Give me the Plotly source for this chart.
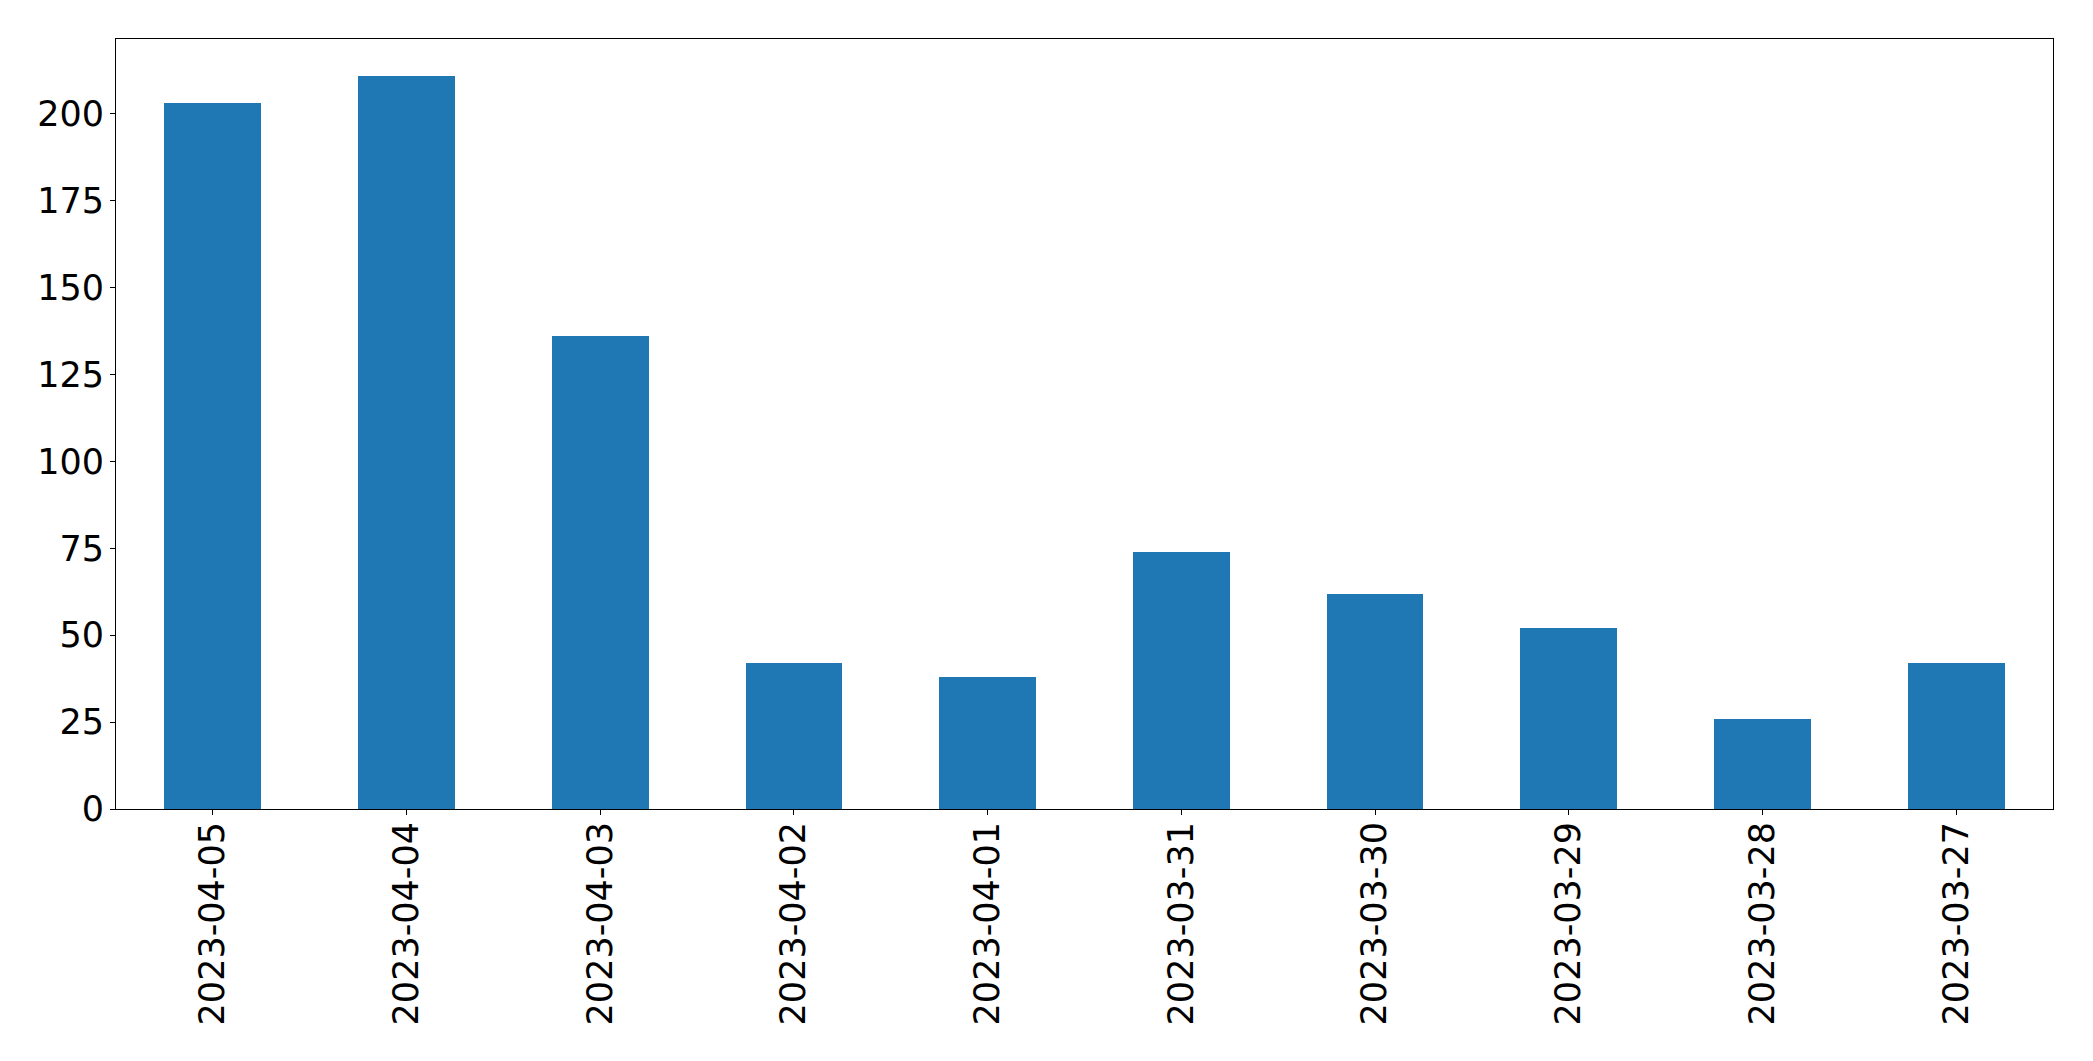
import plotly.graph_objects as go

dates = ["2023-04-05", "2023-04-04", "2023-04-03", "2023-04-02", "2023-04-01",
         "2023-03-31", "2023-03-30", "2023-03-29", "2023-03-28", "2023-03-27"]
counts = [203, 211, 136, 42, 38, 74, 62, 52, 26, 42]
y_ticks = [0, 25, 50, 75, 100, 125, 150, 175, 200]

fig = go.Figure()
fig.add_trace(go.Bar(x=list(range(len(dates))), y=counts, width=0.5,
                     marker=dict(color="#1f77b4", line=dict(width=0))))

font = dict(family="DejaVu Sans", size=35, color="black")
fig.update_layout(
    width=2093, height=1061,
    margin=dict(l=108, r=48, t=31, b=260),
    plot_bgcolor="white", paper_bgcolor="white",
    showlegend=False, font=font, bargap=0,
)
fig.update_xaxes(
    range=[-0.5, len(dates) - 0.5], tickmode="array",
    tickvals=list(range(len(dates))), ticktext=dates, tickangle=-90,
    showline=True, linecolor="black", linewidth=1, mirror=True,
    ticks="outside", ticklen=5, tickwidth=1, tickcolor="black",
    showgrid=False, zeroline=False, tickfont=font, ticklabelstandoff=-7,
)
fig.update_yaxes(
    range=[0, max(counts) * 1.05], tickmode="array", tickvals=y_ticks,
    showline=True, linecolor="black", linewidth=1, mirror=True,
    ticks="outside", ticklen=5, tickwidth=1, tickcolor="black",
    showgrid=False, zeroline=False, tickfont=font, ticklabelstandoff=-1,
)
fig.write_html("out.html")
